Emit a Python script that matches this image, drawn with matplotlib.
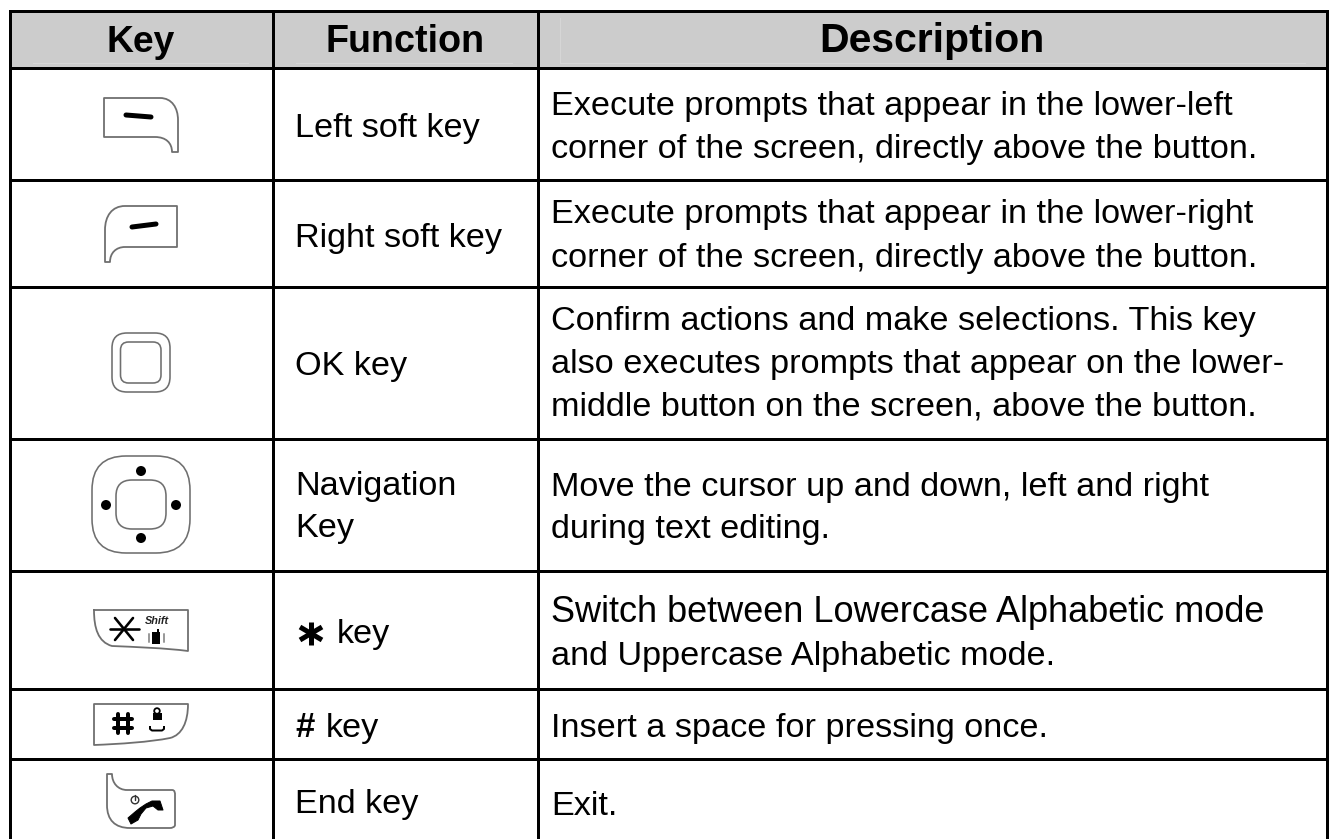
import matplotlib
matplotlib.use("Agg")
import matplotlib.pyplot as plt
from matplotlib.path import Path
from matplotlib.patches import PathPatch, Rectangle, FancyBboxPatch, Circle

plt.rcParams['font.family'] = ['Liberation Sans', 'DejaVu Sans']

headers = ["Key", "Function", "Description"]
functions = [
    (["Left soft key"], [137]),
    (["Right soft key"], [247]),
    (["OK key"], [375]),
    (["Navigation", "Key"], [495, 537]),
    (["key"], [643]),
    (["key"], [737]),
    (["End key"], [813]),
]
descriptions = [
    (["Execute prompts that appear in the lower-left",
      "corner of the screen, directly above the button."], [115, 158]),
    (["Execute prompts that appear in the lower-right",
      "corner of the screen, directly above the button."], [223, 267]),
    (["Confirm actions and make selections. This key",
      "also executes prompts that appear on the lower-",
      "middle button on the screen, above the button."], [330, 373, 415]),
    (["Move the cursor up and down, left and right",
      "during text editing."], [496, 538]),
    (["Switch between Lowercase Alphabetic mode",
      "and Uppercase Alphabetic mode."], [622, 665]),
    (["Insert a space for pressing once."], [737]),
    (["Exit."], [815]),
]
col_lines = [9.5, 273, 537.5, 1327]
row_lines = [10.5, 68, 180, 286.5, 438.5, 571, 688.5, 759, 841]

fig = plt.figure(figsize=(13.29, 8.39), dpi=100)
ax = fig.add_axes([0, 0, 1, 1])
ax.set_xlim(0, 1329)
ax.set_ylim(839, 0)
ax.axis('off')

PX = 0.72
GREY = '#6f6f6f'
M, L, C = Path.MOVETO, Path.LINETO, Path.CURVE4
CL = Path.CLOSEPOLY


def path(verts, codes, fc='white', ec=GREY, lw=1.8):
    ax.add_patch(PathPatch(Path(verts, codes), facecolor=fc, edgecolor=ec,
                           lw=lw * PX, zorder=3, capstyle='round', joinstyle='round'))


def rrect(x0, y0, x1, y1, r, ec=GREY, lw=1.6):
    ax.add_patch(FancyBboxPatch((x0 + r, y0 + r), x1 - x0 - 2 * r, y1 - y0 - 2 * r,
                                boxstyle=f"round,pad={r},rounding_size={r}",
                                fc='white', ec=ec, lw=lw * PX, zorder=3))


def stroke(xs, ys, lw, color='black'):
    ax.plot(xs, ys, color=color, lw=lw * PX, solid_capstyle='round', zorder=4)


def solid(verts):
    codes = [M] + [L] * (len(verts) - 1) + [CL]
    path(verts + [verts[0]], codes, fc='black', ec='black', lw=1)


# table
ax.add_patch(Rectangle((col_lines[0], row_lines[0]), col_lines[-1] - col_lines[0],
                       row_lines[1] - row_lines[0], fc='#cccccc', ec='none', zorder=0))
for x0, x1 in [(33, 248), (296, 512), (560, 1305)]:
    ax.plot([x0, x1], [62.5, 62.5], color='#d6d6d6', lw=1 * PX, zorder=1)
ax.plot([560, 560], [18, 62], color='#d6d6d6', lw=1 * PX, zorder=1)
for x in col_lines:
    ax.plot([x, x], [row_lines[0], row_lines[-1]], color='black', lw=3 * PX, zorder=5,
            solid_capstyle='projecting')
for y in row_lines[:-1]:
    ax.plot([col_lines[0], col_lines[-1]], [y, y], color='black', lw=3 * PX, zorder=5,
            solid_capstyle='projecting')

# header
for name, cx, fs in zip(headers, [141, 405, 932], [26.8, 27.2, 29.5]):
    ax.text(cx, 52.5, name, ha='center', va='baseline', fontsize=fs, fontweight='bold', color='black')

# text
for lines, ys in functions:
    for t, y in zip(lines, ys):
        x = 295
        if t == "key":
            x = 337 if y == 643 else 325.5
        ax.text(x, y, t, ha='left', va='baseline', fontsize=24.7, color='black')
ax.text(295, 737, "#", ha='left', va='baseline', fontsize=25, fontweight='bold', color='black')
for (x0, y0, x1, y1) in [(311, 622, 311, 645), (300, 627, 322, 640), (300, 640, 322, 627)]:
    ax.plot([x0, x1], [y0, y1], color='black', lw=5 * PX, zorder=4, solid_capstyle='butt')
for lines, ys in descriptions:
    for t, y in zip(lines, ys):
        fs = 26 if t.startswith("Switch") else 24.7
        ax.text(551, y, t, ha='left', va='baseline', fontsize=fs, color='black')

# left soft key
path([(104, 98), (160, 98), (172, 98), (178, 108), (178, 120), (178, 152), (172, 152),
      (172, 143), (166, 137), (155, 137), (104, 137), (104, 98)],
     [M, L, C, C, C, L, L, C, C, C, L, CL])
stroke([126, 151], [115, 117], 5)

# right soft key
path([(177, 206), (125, 206), (112, 206), (105, 216), (105, 230), (105, 262), (110, 262),
      (110, 253), (116, 247), (125, 247), (177, 247), (177, 206)],
     [M, L, C, C, C, L, L, C, C, C, L, CL])
stroke([132, 156], [227, 224], 5)

# OK key
rrect(112, 333, 170, 392, 15)
rrect(120.5, 342, 161, 383, 8)

# navigation key
rrect(92, 456, 190, 553, 34)
rrect(116, 480, 166, 529, 16)
for cx, cy in [(141, 471), (141, 538), (106, 505), (176, 505)]:
    ax.add_patch(Circle((cx, cy), 5, fc='black', ec='none', zorder=4))

# star key
path([(94, 610), (188, 610), (188, 651), (165, 648), (135, 647), (112, 646),
      (98, 642), (94, 628), (94, 610)],
     [M, L, L, C, C, C, C, C, CL])
for (x0, y0, x1, y1) in [(110, 628.5, 139, 628.5), (115, 618, 133, 640), (115, 640, 133, 618)]:
    stroke([x0, x1], [y0, y1], 2.6)
ax.text(157, 623.5, "Shift", ha='center', va='baseline', fontsize=7.8, fontweight='bold',
        fontstyle='italic', color='#222222', zorder=4)
ax.add_patch(Rectangle((152, 632), 8, 12, fc='black', ec='none', zorder=4))
ax.add_patch(Rectangle((156.5, 629), 2.5, 3, fc='black', ec='none', zorder=4))
stroke([148.5, 148.5], [634, 642], 2, '#9a9a9a')
stroke([163.5, 163.5], [634, 642], 2, '#9a9a9a')

# hash key
path([(94, 704), (188, 704), (188, 722), (182, 735), (170, 738), (150, 742), (120, 744),
      (94, 745), (94, 704)],
     [M, L, C, C, C, C, C, C, CL])
for x in [118, 128]:
    stroke([x, x], [714, 733], 4)
for y in [719, 728]:
    stroke([114, 132], [y, y], 4)
ax.add_patch(Rectangle((152.5, 712.5), 9, 7, fc='black', ec='none', zorder=4))
ax.add_patch(Circle((157, 711), 2.8, fc='white', ec='black', lw=1.8 * PX, zorder=4))
ax.plot([150, 150, 152, 162, 164, 164], [727, 729, 730.5, 730.5, 729, 727], color='black',
        lw=2 * PX, zorder=4)

# end key
path([(107, 774), (112, 774), (112, 783), (118, 790), (127, 790), (172, 790), (175, 790),
      (175, 793), (175, 795), (175, 825), (175, 827), (172, 828), (170, 828), (130, 828),
      (115, 828), (107, 820), (107, 805), (107, 774)],
     [M, L, C, C, C, L, C, C, C, L, C, C, C, L, C, C, C, CL])
ax.add_patch(Circle((135, 800), 3.8, fc='none', ec='#333333', lw=1.4 * PX, zorder=4))
stroke([135, 135], [795, 800], 1.4, '#333333')
solid([(152, 801), (160, 801), (163, 810), (158, 810), (153, 806), (146, 808), (141, 814),
       (138, 820), (131, 824), (128, 818), (135, 812), (140, 808), (146, 804)])

fig.savefig("out.png", dpi=100, facecolor='white')
